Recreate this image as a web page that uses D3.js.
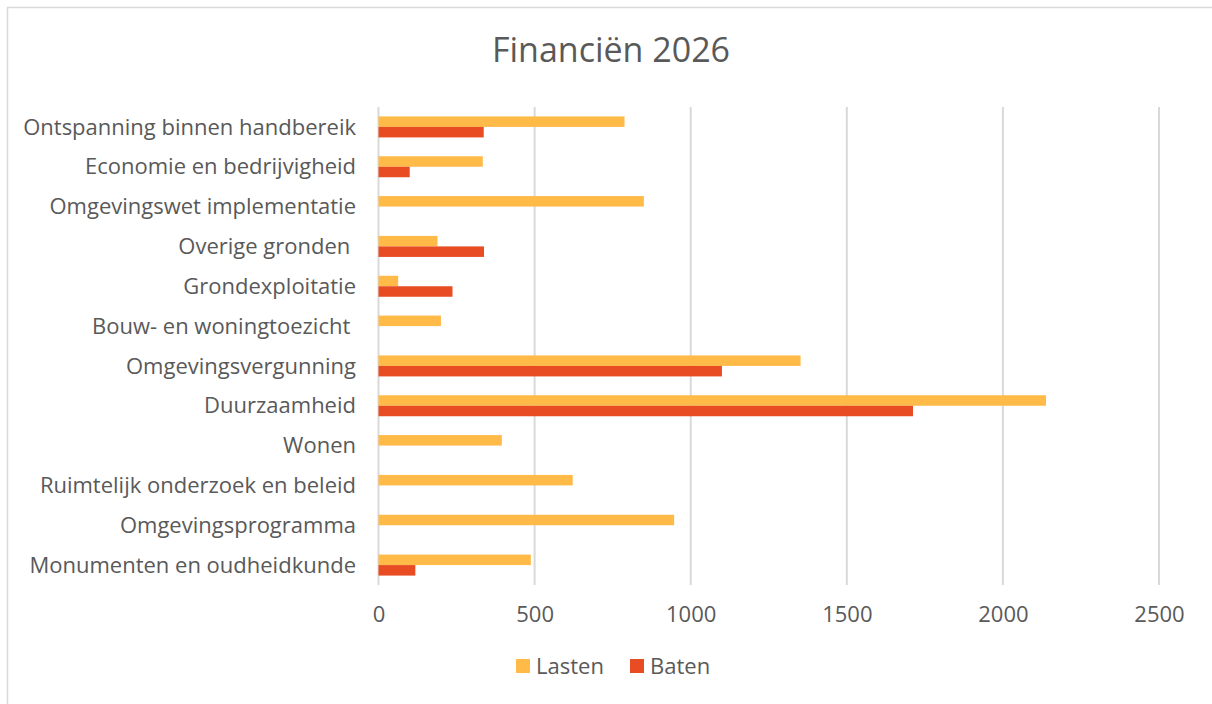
<!DOCTYPE html>
<html lang="nl">
<head>
    <meta charset="UTF-8">
    <title>Financiën 2026</title>
    <script src="https://d3js.org/d3.v7.min.js"></script>
    <style>
        body { margin: 0; background: #fff; font-family: "Open Sans", sans-serif; }
        svg text { fill: #595959; white-space: pre; }
    </style>
</head>
<body>
    <svg width="1212" height="704"></svg>

    <script>
        const width = 1212, height = 704;

        // categorieën van boven naar beneden
        const categories = [
            "Ontspanning binnen handbereik",
            "Economie en bedrijvigheid",
            "Omgevingswet implementatie",
            "Overige gronden ",
            "Grondexploitatie",
            "Bouw- en woningtoezicht ",
            "Omgevingsvergunning",
            "Duurzaamheid",
            "Wonen",
            "Ruimtelijk onderzoek en beleid",
            "Omgevingsprogramma",
            "Monumenten en oudheidkunde"
        ];
        const lasten = [788, 334, 850, 189, 63, 200, 1352, 2138, 395, 622, 947, 488];
        const baten  = [337, 100, 0, 338, 237, 0, 1100, 1712, 0, 0, 0, 118];
        const xTicks = [0, 500, 1000, 1500, 2000, 2500];
        const seriesNames = ["Lasten", "Baten"];
        const colors = ["#FFBA48", "#E84C22"];

        const svg = d3.select("svg");

        // kader
        svg.append("rect")
            .attr("x", 7.5).attr("y", 7.5)
            .attr("width", width + 10).attr("height", height + 10)
            .attr("fill", "none")
            .attr("stroke", "#D9D9D9")
            .attr("stroke-width", 1.5);

        svg.append("text")
            .attr("x", 611).attr("y", 62)
            .attr("text-anchor", "middle")
            .style("font-size", "34px")
            .text("Financiën 2026");

        const x = d3.scaleLinear().domain([0, 2500]).range([378.5, 1159]);
        const y = d3.scaleBand().domain(categories).range([107, 585]);
        const inner = d3.scaleBand().domain(seriesNames)
            .range([0, 21]);
        const barOffset = (y.bandwidth() - 21) / 2;

        // rasterlijnen
        svg.append("g").selectAll("line")
            .data(xTicks)
            .enter().append("line")
            .attr("x1", d => x(d)).attr("x2", d => x(d))
            .attr("y1", 107).attr("y2", 585)
            .attr("stroke", "#D9D9D9")
            .attr("stroke-width", 2);

        // staven
        const rows = categories.map((c, i) => ({ cat: c, vals: [lasten[i], baten[i]] }));
        const g = svg.append("g");
        rows.forEach(r => {
            r.vals.forEach((v, j) => {
                if (!v) return;
                g.append("rect")
                    .attr("x", x(0))
                    .attr("y", y(r.cat) + barOffset + inner(seriesNames[j]))
                    .attr("width", x(v) - x(0))
                    .attr("height", inner.bandwidth())
                    .attr("fill", colors[j]);
            });
        });

        // categorie-labels
        svg.append("g").selectAll("text")
            .data(categories)
            .enter().append("text")
            .attr("x", 356)
            .attr("y", d => y(d) + y.bandwidth() / 2)
            .attr("dy", "0.35em")
            .attr("text-anchor", "end")
            .style("font-size", "22px")
            .text(d => d);

        // x-as labels
        const xAxis = d3.axisBottom(x).tickValues(xTicks)
            .tickFormat(d3.format("d")).tickSize(0).tickPadding(0);
        const ax = svg.append("g").attr("transform", "translate(0,606)").call(xAxis);
        ax.select(".domain").remove();
        ax.selectAll("text")
            .attr("dy", "0.71em")
            .style("font-size", "22px")
            .style("font-family", "'Open Sans', sans-serif")
            .attr("fill", "#595959");

        // legenda
        const legend = svg.append("g").attr("transform", "translate(516,659)");
        const legendX = [0, 114];
        seriesNames.forEach((s, i) => {
            legend.append("rect")
                .attr("x", legendX[i]).attr("y", 0)
                .attr("width", 14).attr("height", 14)
                .attr("fill", colors[i]);
            legend.append("text")
                .attr("x", legendX[i] + 20).attr("y", 7)
                .attr("dy", "0.35em")
                .style("font-size", "22px")
                .text(s);
        });
    </script>
</body>
</html>
